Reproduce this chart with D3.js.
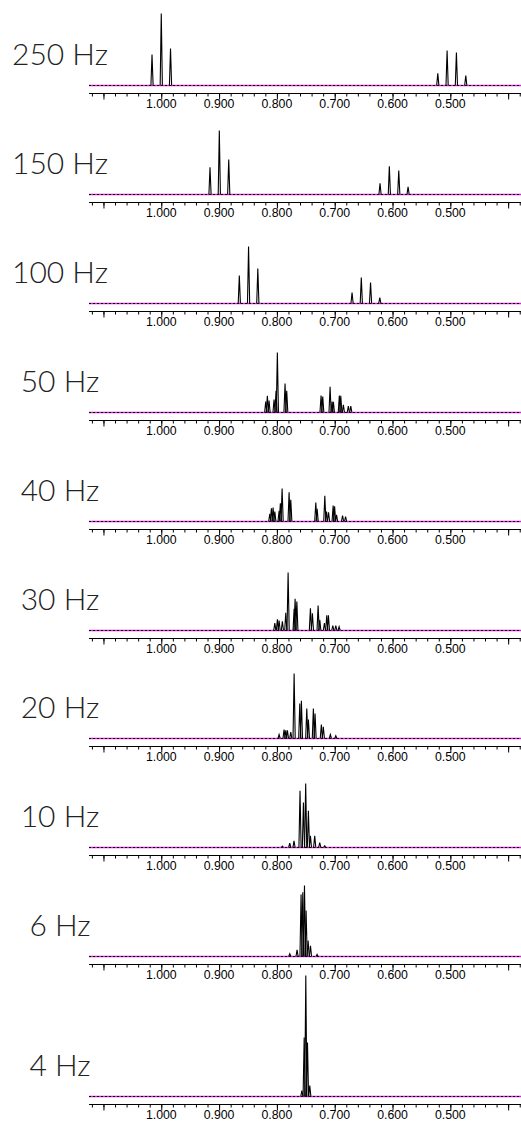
<!DOCTYPE html>
<html>
<head>
<meta charset="utf-8">
<script src="https://cdn.jsdelivr.net/npm/d3@7"></script>
<style>
  html, body { margin: 0; padding: 0; background: #fff; }
  svg { display: block; }
  .panel-label { font-family: Lato, "Open Sans", sans-serif; font-weight: 300; font-size: 30px; fill: #222; }
  .tick-label { font-family: "Liberation Sans", Arial, sans-serif; font-size: 12.3px; fill: #000; }
</style>
</head>
<body>
<svg id="chart" width="521" height="1126"></svg>
<script>
// Coupling-separation labels for each simulated spectrum (top to bottom)
const panelLabels = ["250 Hz", "150 Hz", "100 Hz", "50 Hz", "40 Hz", "30 Hz", "20 Hz", "10 Hz", "6 Hz", "4 Hz"];

// Line positions (ppm) and intensities for each spectrum
const ppm250 = [1.016, 1.000, 0.984, 0.5217, 0.5056, 0.4895, 0.4733];
const int250 = [31, 72, 37, 12.3, 35, 33, 10];

const ppm150 = [0.9157, 0.8996, 0.8833, 0.6216, 0.6055, 0.5892, 0.5731];
const int150 = [27.3, 64, 35, 11.3, 28.3, 24, 7.6];

const ppm100 = [0.865, 0.849, 0.833, 0.670, 0.654, 0.638, 0.622];
const int100 = [28, 57, 35, 11, 26, 21, 6];

const ppm50 = [0.8193, 0.8165, 0.8136, 0.8049, 0.8015, 0.7992, 0.7859, 0.7830, 0.7236, 0.7207, 0.7080, 0.7046, 0.7023, 0.6920, 0.6895, 0.6850, 0.6764, 0.6722];
const int50 = [11, 16.7, 12, 13, 21.7, 60, 29, 21.7, 17, 16, 25.7, 11, 10.7, 17, 16.7, 7.7, 6.3, 6.3];

const ppm40 = [0.8123, 0.8095, 0.8066, 0.8036, 0.7962, 0.7940, 0.7910, 0.7789, 0.7760, 0.7327, 0.7304, 0.7171, 0.7142, 0.7107, 0.7027, 0.7002, 0.6968, 0.6864, 0.6812];
const int40 = [7.7, 13.3, 14, 10, 10.7, 18.3, 33, 29.3, 21.7, 19, 12.7, 25.7, 10, 9.3, 16, 15.3, 6.7, 6, 5];

const ppm30 = [0.8036, 0.7991, 0.7962, 0.7905, 0.7846, 0.7806, 0.7702, 0.7685, 0.7655, 0.7420, 0.7386, 0.7287, 0.7258, 0.7178, 0.7137, 0.7109, 0.7033, 0.6981, 0.6924];
const int30 = [7.3, 11.3, 10, 9.3, 17.7, 58, 21.7, 31.7, 29, 22.3, 17.3, 25, 10.7, 7.3, 15.3, 15.3, 5, 5, 3.7];

const ppm20 = [0.7962, 0.7876, 0.7846, 0.7818, 0.7760, 0.7702, 0.7604, 0.7576, 0.7483, 0.7455, 0.7369, 0.7340, 0.7231, 0.7197, 0.7075, 0.6981];
const int20 = [4, 9, 8.3, 8.3, 6.3, 65, 35, 37.7, 30, 19, 30, 25, 14, 11.7, 4, 2.7];

const ppm10 = [0.7905, 0.7778, 0.7704, 0.7600, 0.7541, 0.7502, 0.7455, 0.7420, 0.7346, 0.7259, 0.7173];
const int10 = [1.4, 4.4, 6.7, 56.7, 45, 64, 36.7, 11.7, 11.7, 5, 1.7];

const ppm6 = [0.7777, 0.7651, 0.7582, 0.7552, 0.7523, 0.7495, 0.7460, 0.7419, 0.7305];
const int6 = [2.7, 6.7, 62, 64.3, 71, 46, 16, 10.7, 2];

const ppm4 = [0.7568, 0.7528, 0.7500, 0.7471, 0.7431];
const int4 = [6, 59, 121, 54, 11];

// Axis ticks (ppm)
const majorTicks = [1.1, 1.0, 0.9, 0.8, 0.7, 0.6, 0.5, 0.4];
const labelledTicks = [1.0, 0.9, 0.8, 0.7, 0.6, 0.5];
const minorTicks = d3.range(56, 18, -1).map(k => k * 0.02);

const spectra = [
  [ppm250, int250], [ppm150, int150], [ppm100, int100], [ppm50, int50], [ppm40, int40],
  [ppm30, int30], [ppm20, int20], [ppm10, int10], [ppm6, int6], [ppm4, int4]
];

const svg = d3.select("#chart");
const W = 521;

// Shared chemical-shift scale (ppm decreases to the right)
const x = d3.scaleLinear().domain([1.125, 0.3795]).range([89, 520]);
// Intensity scale: one unit rises one pixel above each spectrum baseline
const y = d3.scaleLinear().domain([0, 100]).range([0, -100]);

// Baseline position of each stacked spectrum
function baselineY(i) {
  return Math.round(i < 9 ? 85 + i * 108.9 : 85 + 8 * 108.9 + 140);
}

const halfWidth = 0.0019; // line half-width in ppm
const line = d3.line().x(d => x(d[0])).y(d => y(d[1]) + 0.5);

spectra.forEach(([ppms, ints], i) => {
  const g = svg.append("g").attr("transform", `translate(0,${baselineY(i)})`);

  // Reference baseline: magenta under a black dashed line
  g.append("line")
    .attr("x1", x.range()[0]).attr("x2", W)
    .attr("y1", 0.5).attr("y2", 0.5)
    .attr("stroke", "#dd22dd").attr("stroke-width", 1.6);

  g.append("line")
    .attr("x1", x.range()[0]).attr("x2", W)
    .attr("y1", 0.5).attr("y2", 0.5)
    .attr("stroke", "#000").attr("stroke-width", 1.2)
    .attr("stroke-dasharray", "2,2");

  // Spectrum lines, one spike per resonance
  const peaks = ppms.map((p, k) => ({ p, h: ints[k] }));
  g.selectAll("path.peak")
    .data(peaks)
    .join("path")
    .attr("class", "peak")
    .attr("d", d => line([[d.p + halfWidth, 0], [d.p, d.h], [d.p - halfWidth, 0]]))
    .attr("fill", "none")
    .attr("stroke", "#000")
    .attr("stroke-width", 1.1)
    .attr("stroke-linejoin", "miter");

  // ppm axis under the spectrum
  const axisG = g.append("g").attr("transform", "translate(0,8)");
  axisG.append("line")
    .attr("x1", x.range()[0]).attr("x2", W)
    .attr("y1", 0.5).attr("y2", 0.5)
    .attr("stroke", "#000").attr("stroke-width", 1);
  axisG.append("g").call(
    d3.axisBottom(x).tickValues(minorTicks).tickSize(3.5).tickFormat("")
  ).call(s => s.select(".domain").remove());
  axisG.append("g").call(
    d3.axisBottom(x).tickValues(majorTicks).tickSize(6.5).tickFormat("")
  ).call(s => s.select(".domain").remove());
  axisG.selectAll(".tick line").attr("stroke", "#000");
  axisG.selectAll("text.tick-label")
    .data(labelledTicks)
    .join("text")
    .attr("class", "tick-label")
    .attr("x", d => x(d))
    .attr("y", 14.5)
    .attr("text-anchor", "middle")
    .text(d => d3.format(".3f")(d));

  // Spectrum label
  g.append("text")
    .attr("class", "panel-label")
    .attr("x", 60)
    .attr("y", -20)
    .attr("text-anchor", "middle")
    .text(panelLabels[i]);
});
</script>
</body>
</html>
